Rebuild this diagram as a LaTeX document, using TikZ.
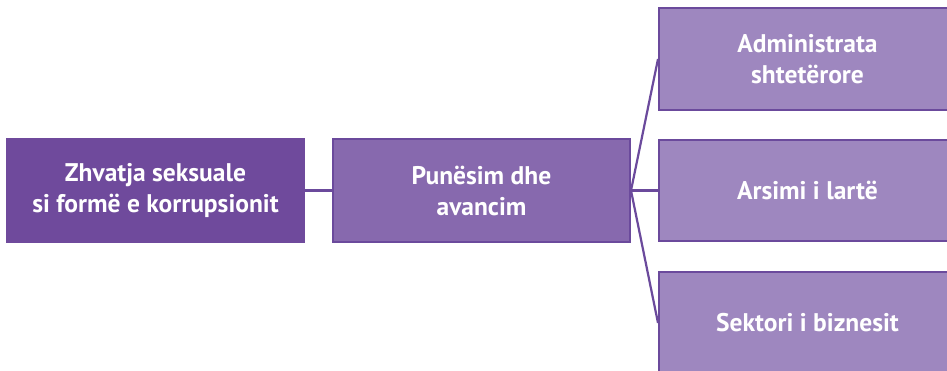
\documentclass[tikz,border=0pt]{standalone}
\usepackage{fontspec}
\setmainfont{PT Sans}
\definecolor{darkp}{HTML}{6F4A9C}
\definecolor{midp}{HTML}{8769AE}
\definecolor{lightp}{HTML}{9E87BF}
\definecolor{edgep}{HTML}{6B4A9C}
\begin{document}
\begin{tikzpicture}[x=1pt,y=1pt,
  box/.style={draw=edgep,line width=2pt,minimum width=297pt,inner sep=0pt,
    text=white,font=\fontsize{25.5}{31}\selectfont\bfseries,align=center},
  conn/.style={draw=edgep,line width=2.2pt}]
\useasboundingbox (0,0) rectangle (947,370);
\clip (0,0) rectangle (947,370);
\fill[white] (0,0) rectangle (947,370);
\node[box,fill=darkp,draw=darkp,minimum height=103pt] (a) at (155.5,179.5) {Zhvatja seksuale\\si formë e korrupsionit};
\node[box,fill=midp,minimum height=102pt] (b) at (481.5,179.5) {Punësim dhe\\avancim};
\node[box,fill=lightp,minimum height=102pt] (c) at (807.5,311) {Administrata\\shtetërore};
\node[box,fill=lightp,minimum height=101pt] (d) at (807.5,179.5) {Arsimi i lartë};
\node[box,fill=lightp,minimum height=102pt] (e) at (807.5,47) {Sektori i biznesit};
\draw[conn] (a.east) -- (b.west);
\draw[conn] (b.east) -- (c.west);
\draw[conn] (b.east) -- (d.west);
\draw[conn] (b.east) -- (e.west);
\end{tikzpicture}
\end{document}
